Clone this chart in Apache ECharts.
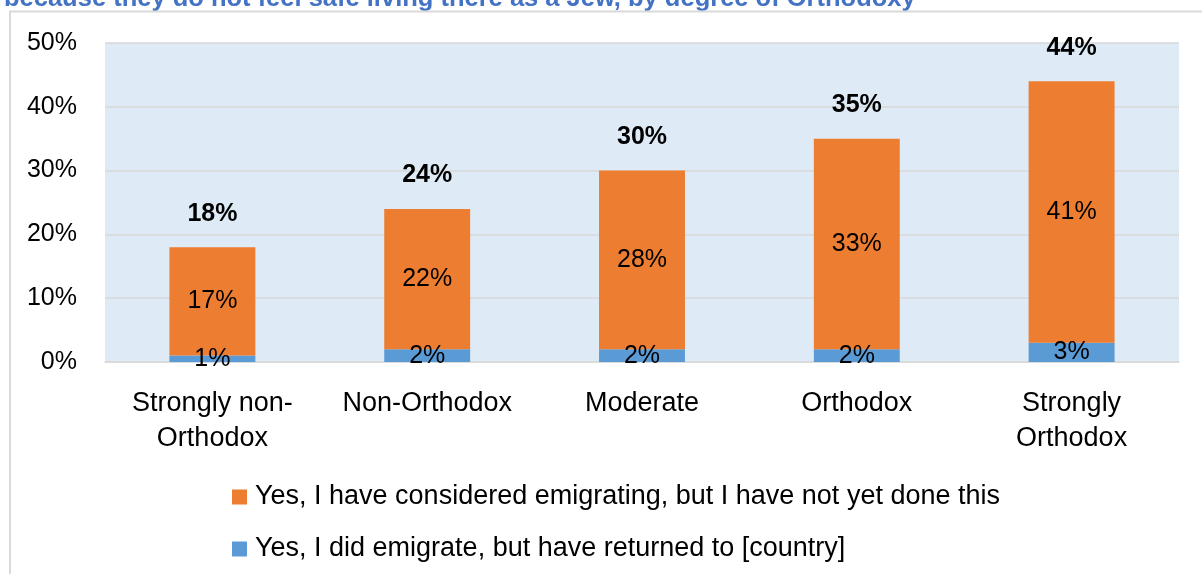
<!DOCTYPE html>
<html>
<head>
<meta charset="utf-8">
<script src="https://cdn.jsdelivr.net/npm/echarts@6/dist/echarts.min.js"></script>
<style>
  html, body { margin: 0; padding: 0; background: #ffffff; }
  #chart { width: 1202px; height: 574px; }
</style>
</head>
<body>
<div id="chart"></div>
<script>
// Degree of Orthodoxy groups (line breaks follow the axis label wrapping)
const categories = ['Strongly non-\nOrthodox', 'Non-Orthodox', 'Moderate', 'Orthodox', 'Strongly\nOrthodox'];

// Share who emigrated and came back (%)
const returnedValues = [1, 2, 2, 2, 3];
// Share who considered emigrating but have not done so (%)
const consideredValues = [17, 22, 28, 33, 41];

const yTicks = [0, 10, 20, 30, 40, 50];

const seriesNames = [
  'Yes, I have considered emigrating, but I have not yet done this',
  'Yes, I did emigrate, but have returned to [country]'
];

const titleText = 'because they do not feel safe living there as a Jew, by degree of Orthodoxy';

// Totals shown above each stacked bar
const totals = consideredValues.map((v, i) => v + returnedValues[i]);

const FONT = '"Liberation Sans", Arial, sans-serif';
const ORANGE = '#ED7D31';
const BLUE = '#5B9BD5';
const GRIDLINE = '#D9D9D9';

const chart = echarts.init(document.getElementById('chart'), null, { renderer: 'canvas' });

chart.setOption({
  backgroundColor: '#ffffff',
  animation: false,
  textStyle: { fontFamily: FONT },
  graphic: [
    {
      type: 'text',
      left: 4,
      top: -14,
      style: {
        text: titleText,
        fill: '#4472C4',
        font: 'bold 25.5px ' + FONT
      }
    },
    {
      type: 'polyline',
      shape: { points: [[10, 574], [10, 11.5], [1202, 11.5]] },
      style: { stroke: GRIDLINE, lineWidth: 2, fill: null }
    }
  ],
  grid: {
    left: 105,
    right: 23,
    top: 43,
    bottom: 212,
    show: true,
    backgroundColor: '#DEEAF6',
    borderWidth: 0
  },
  legend: {
    orient: 'vertical',
    left: 227,
    top: 477,
    itemWidth: 15,
    itemHeight: 15,
    itemGap: 22,
    icon: 'rect',
    data: [seriesNames[0], seriesNames[1]],
    textStyle: { fontFamily: FONT, fontSize: 27, color: '#000000', lineHeight: 30, padding: [0, 0, 0, 3] }
  },
  xAxis: {
    type: 'category',
    data: categories,
    axisTick: { show: false },
    axisLine: { show: true, lineStyle: { color: GRIDLINE, width: 1.5 } },
    axisLabel: {
      color: '#000000',
      fontFamily: FONT,
      fontSize: 27,
      lineHeight: 35,
      margin: 24,
      interval: 0
    }
  },
  yAxis: {
    type: 'value',
    min: yTicks[0],
    max: yTicks[yTicks.length - 1],
    interval: 10,
    axisLine: { show: false },
    axisTick: { show: false },
    splitLine: { lineStyle: { color: GRIDLINE, width: 1.5 } },
    axisLabel: {
      color: '#000000',
      fontFamily: FONT,
      fontSize: 25,
      margin: 28,
      formatter: v => v + '%'
    }
  },
  series: [
    {
      name: seriesNames[1],
      type: 'bar',
      stack: 'total',
      barWidth: '40%',
      data: returnedValues,
      itemStyle: { color: BLUE },
      label: {
        show: true,
        position: 'inside',
        color: '#000000',
        fontFamily: FONT,
        fontSize: 25,
        formatter: p => p.value + '%'
      }
    },
    {
      name: seriesNames[0],
      type: 'bar',
      stack: 'total',
      barWidth: '40%',
      data: consideredValues,
      itemStyle: { color: ORANGE },
      label: {
        show: true,
        position: 'inside',
        color: '#000000',
        fontFamily: FONT,
        fontSize: 25,
        formatter: p => p.value + '%'
      }
    },
    {
      name: 'total',
      type: 'scatter',
      data: totals,
      symbolSize: 0,
      silent: true,
      itemStyle: { opacity: 1 },
      label: {
        show: true,
        position: 'top',
        distance: 21,
        color: '#000000',
        opacity: 1,
        fontFamily: FONT,
        fontSize: 25,
        fontWeight: 'bold',
        formatter: p => p.value + '%'
      }
    }
  ]
});
</script>
</body>
</html>
